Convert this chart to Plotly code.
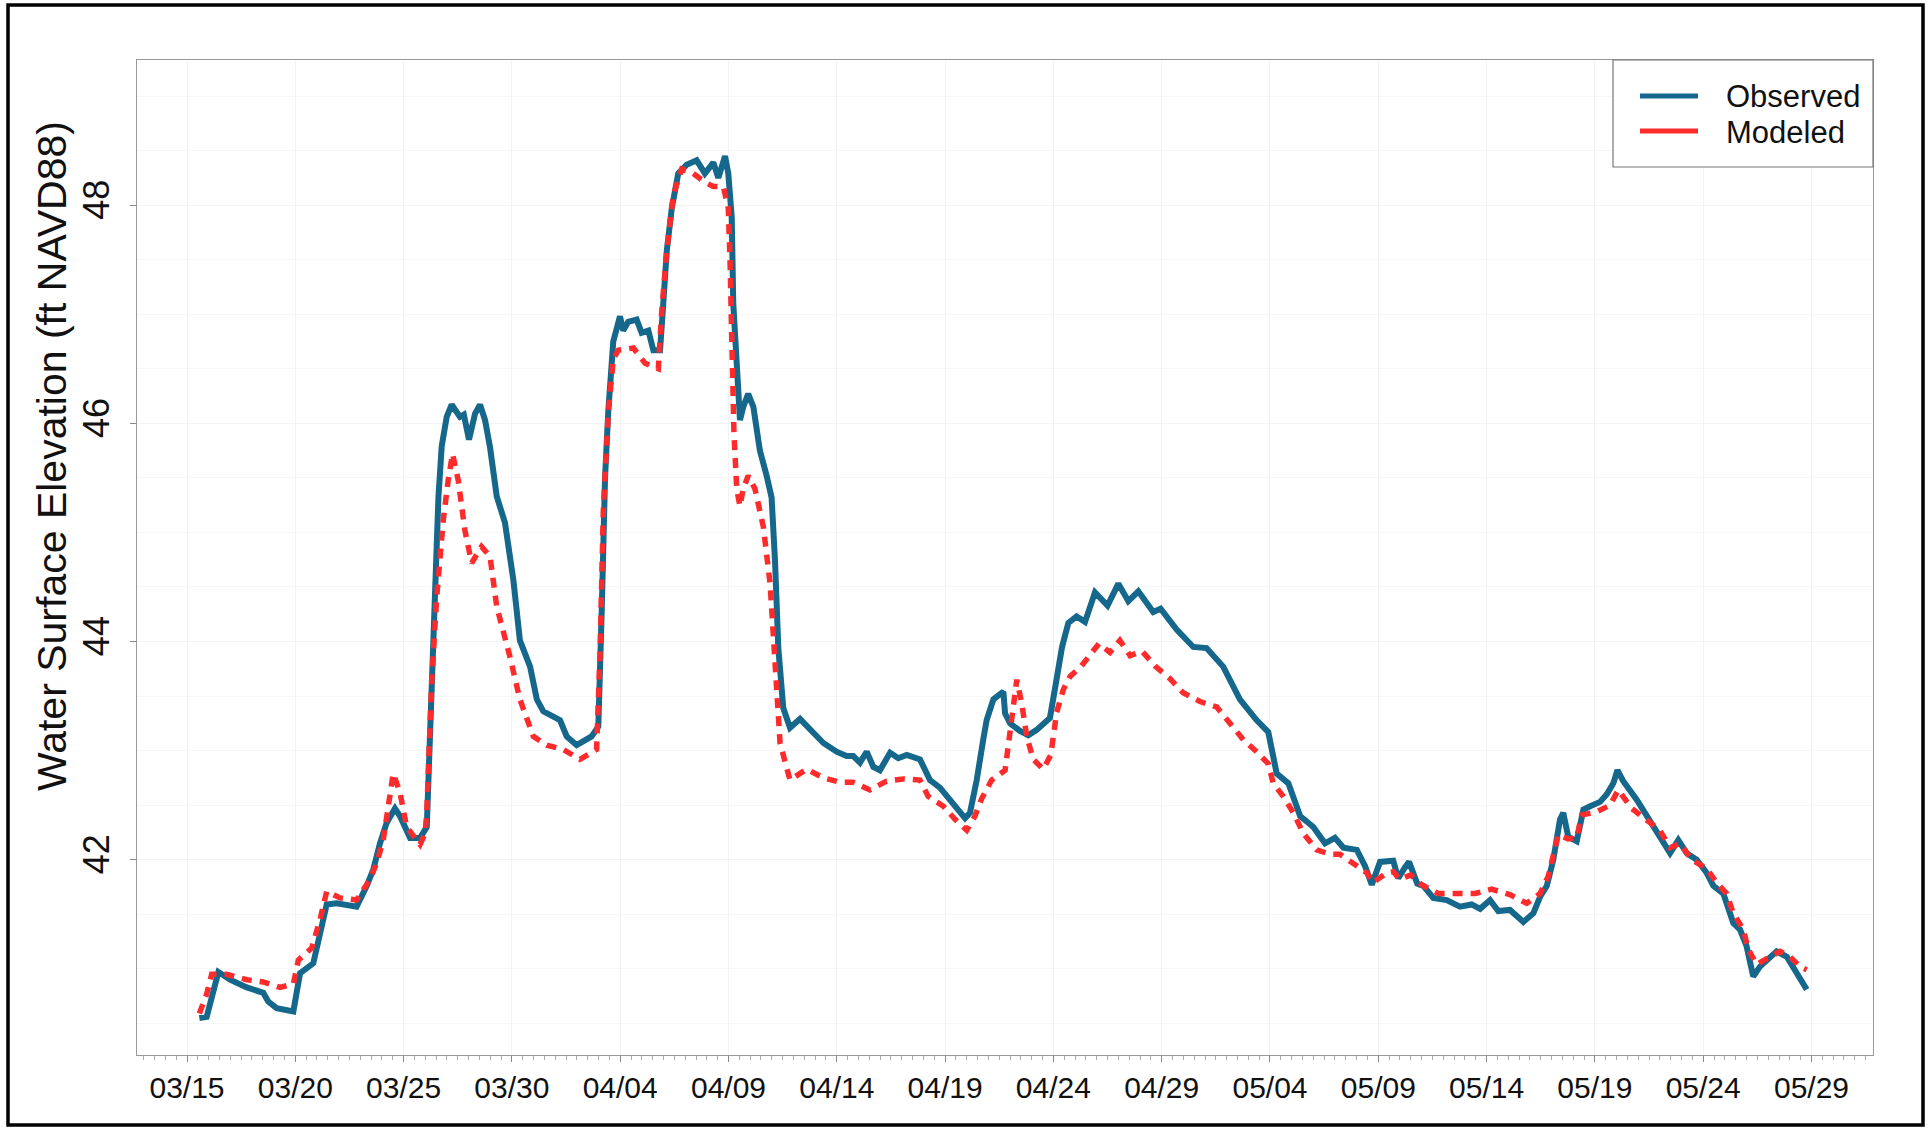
import pandas as pd
import plotly.graph_objects as go

# ---- data (day offset from 03/15, water surface elevation ft NAVD88) ----
start_date = "2023-03-15"

obs_days = [0.57, 0.91, 1.45, 1.99, 2.76, 3.52, 3.75, 4.14, 4.91, 5.22, 5.83, 6.14, 6.45, 6.91, 7.83,
            8.30, 8.60, 8.91, 9.22, 9.60, 9.83, 10.30, 10.76, 11.07, 11.14, 11.30, 11.45, 11.61, 11.76,
            11.99, 12.22, 12.60, 12.78, 13.02, 13.30, 13.53, 13.76, 13.99, 14.30, 14.68, 15.07, 15.37,
            15.84, 16.15, 16.45, 17.22, 17.53, 17.99, 18.68, 18.99, 19.15, 19.30, 19.45, 19.61, 19.68,
            19.99, 20.14, 20.37, 20.76, 20.99, 21.30, 21.53, 21.84, 21.99, 22.15, 22.38, 22.68, 23.07,
            23.53, 23.91, 24.30, 24.53, 24.84, 24.99, 25.15, 25.22, 25.38, 25.53, 25.68, 25.91, 26.15,
            26.45, 26.76, 26.99, 27.15, 27.30, 27.53, 27.84, 28.30, 28.76, 29.38, 29.99, 30.45, 30.76,
            31.07, 31.38, 31.69, 31.99, 32.46, 32.84, 33.23, 33.84, 34.30, 34.76, 35.38, 35.92, 36.15,
            36.46, 36.76, 36.92, 37.23, 37.69, 37.77, 38.00, 38.46, 38.84, 39.23, 39.84, 40.10, 40.40,
            40.69, 41.07, 41.46, 41.92, 42.50, 43.00, 43.46, 43.92, 44.61, 44.95, 45.69, 46.46, 47.07,
            47.84, 48.61, 49.38, 49.92, 50.31, 50.85, 51.39, 52.00, 52.54, 53.00, 53.39, 54.01, 54.39,
            54.70, 55.08, 55.69, 55.92, 56.23, 56.42, 56.80, 57.08, 57.54, 58.16, 58.77, 59.31, 59.70,
            60.16, 60.54, 61.08, 61.70, 62.16, 62.47, 62.78, 63.08, 63.39, 63.54, 63.77, 64.16, 64.47,
            64.78, 65.24, 65.55, 65.85, 66.04, 66.31, 66.93, 67.39, 67.85, 68.47, 68.85, 69.24, 69.70,
            70.16, 70.47, 70.93, 71.39, 71.70, 72.00, 72.31, 72.62, 73.39, 73.86, 74.32, 74.78]
obs_vals = [40.55, 40.56, 40.97, 40.90, 40.83, 40.78, 40.70, 40.64, 40.61, 40.96, 41.05, 41.33, 41.59, 41.60, 41.57,
            41.76, 41.91, 42.15, 42.34, 42.47, 42.40, 42.20, 42.20, 42.30, 42.73, 43.65, 44.56, 45.33, 45.79,
            46.06, 46.17, 46.06, 46.08, 45.85, 46.09, 46.17, 46.03, 45.78, 45.33, 45.09, 44.56, 44.01,
            43.77, 43.47, 43.36, 43.28, 43.13, 43.05, 43.13, 43.22, 44.30, 45.50, 46.11, 46.47, 46.75,
            46.98, 46.85, 46.93, 46.95, 46.83, 46.85, 46.67, 46.67, 47.10, 47.58, 47.97, 48.29, 48.37,
            48.41, 48.29, 48.39, 48.25, 48.45, 48.29, 47.89, 47.10, 46.51, 46.03, 46.15, 46.27, 46.15,
            45.75, 45.52, 45.32, 44.73, 43.94, 43.39, 43.21, 43.29, 43.19, 43.07, 42.99, 42.95, 42.95,
            42.89, 42.99, 42.85, 42.82, 42.98, 42.93, 42.96, 42.92, 42.73, 42.66, 42.52, 42.38, 42.43,
            42.73, 43.10, 43.28, 43.47, 43.54, 43.34, 43.25, 43.18, 43.14, 43.19, 43.30, 43.60, 43.95,
            44.17, 44.23, 44.18, 44.45, 44.33, 44.53, 44.37, 44.46, 44.27, 44.30, 44.11, 43.95, 43.94,
            43.77, 43.47, 43.28, 43.17, 42.79, 42.70, 42.40, 42.30, 42.15, 42.20, 42.11, 42.09, 41.94,
            41.77, 41.98, 41.99, 41.83, 41.93, 41.98, 41.78, 41.76, 41.65, 41.63, 41.57, 41.59, 41.55,
            41.63, 41.53, 41.54, 41.43, 41.51, 41.66, 41.76, 42.00, 42.37, 42.43, 42.21, 42.17, 42.46,
            42.49, 42.53, 42.60, 42.70, 42.82, 42.72, 42.55, 42.40, 42.27, 42.06, 42.18, 42.06, 42.00,
            41.88, 41.76, 41.69, 41.42, 41.36, 41.21, 40.93, 41.02, 41.16, 41.11, 40.96, 40.81]

mod_days = [0.57, 0.91, 1.14, 1.83, 2.76, 3.52, 4.29, 4.91, 5.14, 5.76, 6.14, 6.45, 7.06, 7.83, 8.45,
            8.76, 9.06, 9.29, 9.52, 9.83, 10.14, 10.76, 10.99, 11.07, 11.30, 11.53, 11.83, 12.06, 12.26,
            12.52, 12.83, 13.14, 13.60, 13.99, 14.30, 14.91, 15.37, 15.99, 16.61, 17.37, 18.14, 18.91,
            19.07, 19.22, 19.45, 19.68, 19.91, 20.61, 21.15, 21.76, 21.92, 22.15, 22.45, 22.84, 23.37,
            23.91, 24.30, 24.76, 24.99, 25.07, 25.15, 25.25, 25.38, 25.53, 25.68, 25.91, 26.22, 26.61,
            26.92, 27.15, 27.38, 27.84, 28.61, 29.38, 30.15, 30.76, 31.53, 32.30, 33.07, 33.84, 34.22,
            34.92, 35.46, 36.00, 36.38, 36.69, 37.15, 37.77, 37.92, 38.07, 38.31, 38.54, 38.77, 39.07,
            39.53, 39.88, 40.15, 40.46, 40.77, 41.27, 41.69, 42.10, 42.61, 43.07, 43.54, 44.10, 44.72,
            45.38, 45.99, 46.77, 47.54, 48.15, 48.77, 49.38, 49.92, 50.15, 50.61, 51.08, 51.54, 52.16,
            52.77, 53.23, 53.85, 54.47, 54.77, 55.38, 55.69, 56.00, 56.50, 57.00, 57.77, 58.62, 59.47,
            60.23, 61.08, 61.85, 62.47, 62.85, 63.08, 63.31, 63.77, 64.16, 64.39, 65.09, 65.70, 66.08,
            66.70, 67.39, 68.00, 68.47, 68.93, 69.47, 70.16, 70.62, 71.08, 71.39, 71.85, 72.08, 72.47,
            73.08, 73.55, 74.01, 74.47, 74.78]
mod_vals = [40.59, 40.77, 40.95, 40.95, 40.90, 40.88, 40.83, 40.86, 41.08, 41.19, 41.45, 41.71, 41.65, 41.63, 41.82,
            41.97, 42.18, 42.46, 42.79, 42.62, 42.30, 42.14, 42.24, 42.43, 43.65, 44.41, 45.11, 45.48, 45.72,
            45.48, 45.02, 44.72, 44.87, 44.78, 44.32, 43.86, 43.47, 43.13, 43.05, 43.01, 42.92, 43.01,
            43.90, 45.20, 46.10, 46.59, 46.67, 46.69, 46.55, 46.50, 47.03, 47.58, 48.09, 48.33, 48.29,
            48.21, 48.17, 48.17, 47.97, 47.50, 46.71, 45.92, 45.40, 45.24, 45.40, 45.52, 45.40, 45.05,
            44.53, 43.74, 43.07, 42.73, 42.83, 42.75, 42.71, 42.71, 42.64, 42.72, 42.74, 42.73, 42.58,
            42.49, 42.37, 42.27, 42.40, 42.56, 42.73, 42.82, 43.04, 43.34, 43.65, 43.43, 43.13, 42.92,
            42.83, 42.96, 43.35, 43.56, 43.68, 43.77, 43.88, 43.98, 43.90, 44.01, 43.87, 43.91, 43.77,
            43.66, 43.53, 43.45, 43.40, 43.25, 43.10, 42.99, 42.88, 42.70, 42.58, 42.43, 42.24, 42.09,
            42.05, 42.05, 41.97, 41.88, 41.79, 41.88, 41.89, 41.82, 41.86, 41.77, 41.69, 41.69, 41.69,
            41.73, 41.68, 41.60, 41.69, 41.85, 42.06, 42.23, 42.19, 42.20, 42.41, 42.44, 42.50, 42.64,
            42.47, 42.37, 42.27, 42.11, 42.15, 42.00, 41.92, 41.79, 41.69, 41.51, 41.36, 41.18, 41.04,
            41.11, 41.16, 41.11, 41.02, 40.99]

series_names = ["Observed", "Modeled"]
series_colors = ["#15678b", "#fd2b2b"]
y_title = "Water Surface Elevation (ft NAVD88)"

base = pd.Timestamp(start_date)
obs_x = [base + pd.Timedelta(days=d) for d in obs_days]
mod_x = [base + pd.Timedelta(days=d) for d in mod_days]

FONT = "Liberation Sans, Arial, sans-serif"
W, H = 1929, 1128
L, R, T, B = 137, 56, 60, 73
pw, ph = W - L - R, H - T - B


def px(xpix):
    return (xpix - L) / pw


def py(ypix):
    return (H - B - ypix) / ph


fig = go.Figure()
fig.add_trace(go.Scatter(x=obs_x, y=obs_vals, mode="lines", name=series_names[0], showlegend=False,
                         line=dict(color=series_colors[0], width=6)))
fig.add_trace(go.Scatter(x=mod_x, y=mod_vals, mode="lines", name=series_names[1], showlegend=False,
                         line=dict(color=series_colors[1], width=5.5, dash="10px,8px")))

x0 = base - pd.Timedelta(hours=55.4)
x1 = base + pd.Timedelta(days=77.84)

fig.update_xaxes(
    type="date", range=[x0, x1], tick0=start_date, dtick=5 * 86400000, tickformat="%m/%d",
    ticks="outside", ticklen=6, tickcolor="#888", tickfont=dict(family=FONT, size=30, color="#111"),
    showline=True, linecolor="#999", linewidth=1.2, mirror=True,
    showgrid=True, gridcolor="#f3f3f3", gridwidth=1, zeroline=False,
    minor=dict(dtick=43200000, ticks="outside", ticklen=4, tickcolor="#aaa",
               showgrid=False),
)
fig.update_yaxes(
    range=[40.21, 49.33], tick0=40, dtick=2, tickangle=-90,
    ticks="outside", ticklen=6, tickcolor="#888", tickfont=dict(family=FONT, size=36, color="#111"),
    ticklabelstandoff=7,
    showline=True, linecolor="#999", linewidth=1.2, mirror=True,
    showgrid=True, gridcolor="#f3f3f3", gridwidth=1, zeroline=False,
    minor=dict(dtick=0.5, showgrid=True, gridcolor="#f7f7f7"),
)

# y-axis title
fig.add_annotation(text=y_title, xref="paper", yref="paper", x=px(52), y=py(456),
                   xanchor="center", yanchor="middle", textangle=-90, showarrow=False,
                   font=dict(family=FONT, size=41, color="#111"))

# legend box drawn by hand (solid swatches, as in the original)
fig.add_shape(type="rect", xref="paper", yref="paper", x0=px(1613), x1=px(1873),
              y0=py(167), y1=py(60), line=dict(color="#777", width=1.2),
              fillcolor="white", layer="above")
for i, (name, col) in enumerate(zip(series_names, series_colors)):
    yy = 96 + i * 35
    fig.add_shape(type="line", xref="paper", yref="paper", x0=px(1640), x1=px(1698),
                  y0=py(yy), y1=py(yy), line=dict(color=col, width=5), layer="above")
    fig.add_annotation(text=name, xref="paper", yref="paper", x=px(1724), y=py(yy + 1),
                       xanchor="left", yanchor="middle", showarrow=False,
                       font=dict(family=FONT, size=31, color="#111"))

# outer black frame of the picture
fig.add_shape(type="rect", xref="paper", yref="paper",
              x0=px(8), x1=px(1923), y0=py(1125), y1=py(5),
              line=dict(color="black", width=3.5), layer="above")

fig.update_layout(
    width=W, height=H, margin=dict(l=L, r=R, t=T, b=B),
    paper_bgcolor="white", plot_bgcolor="white",
    font=dict(family=FONT, color="#111"),
    showlegend=False,
)

fig.write_html("out.html")
